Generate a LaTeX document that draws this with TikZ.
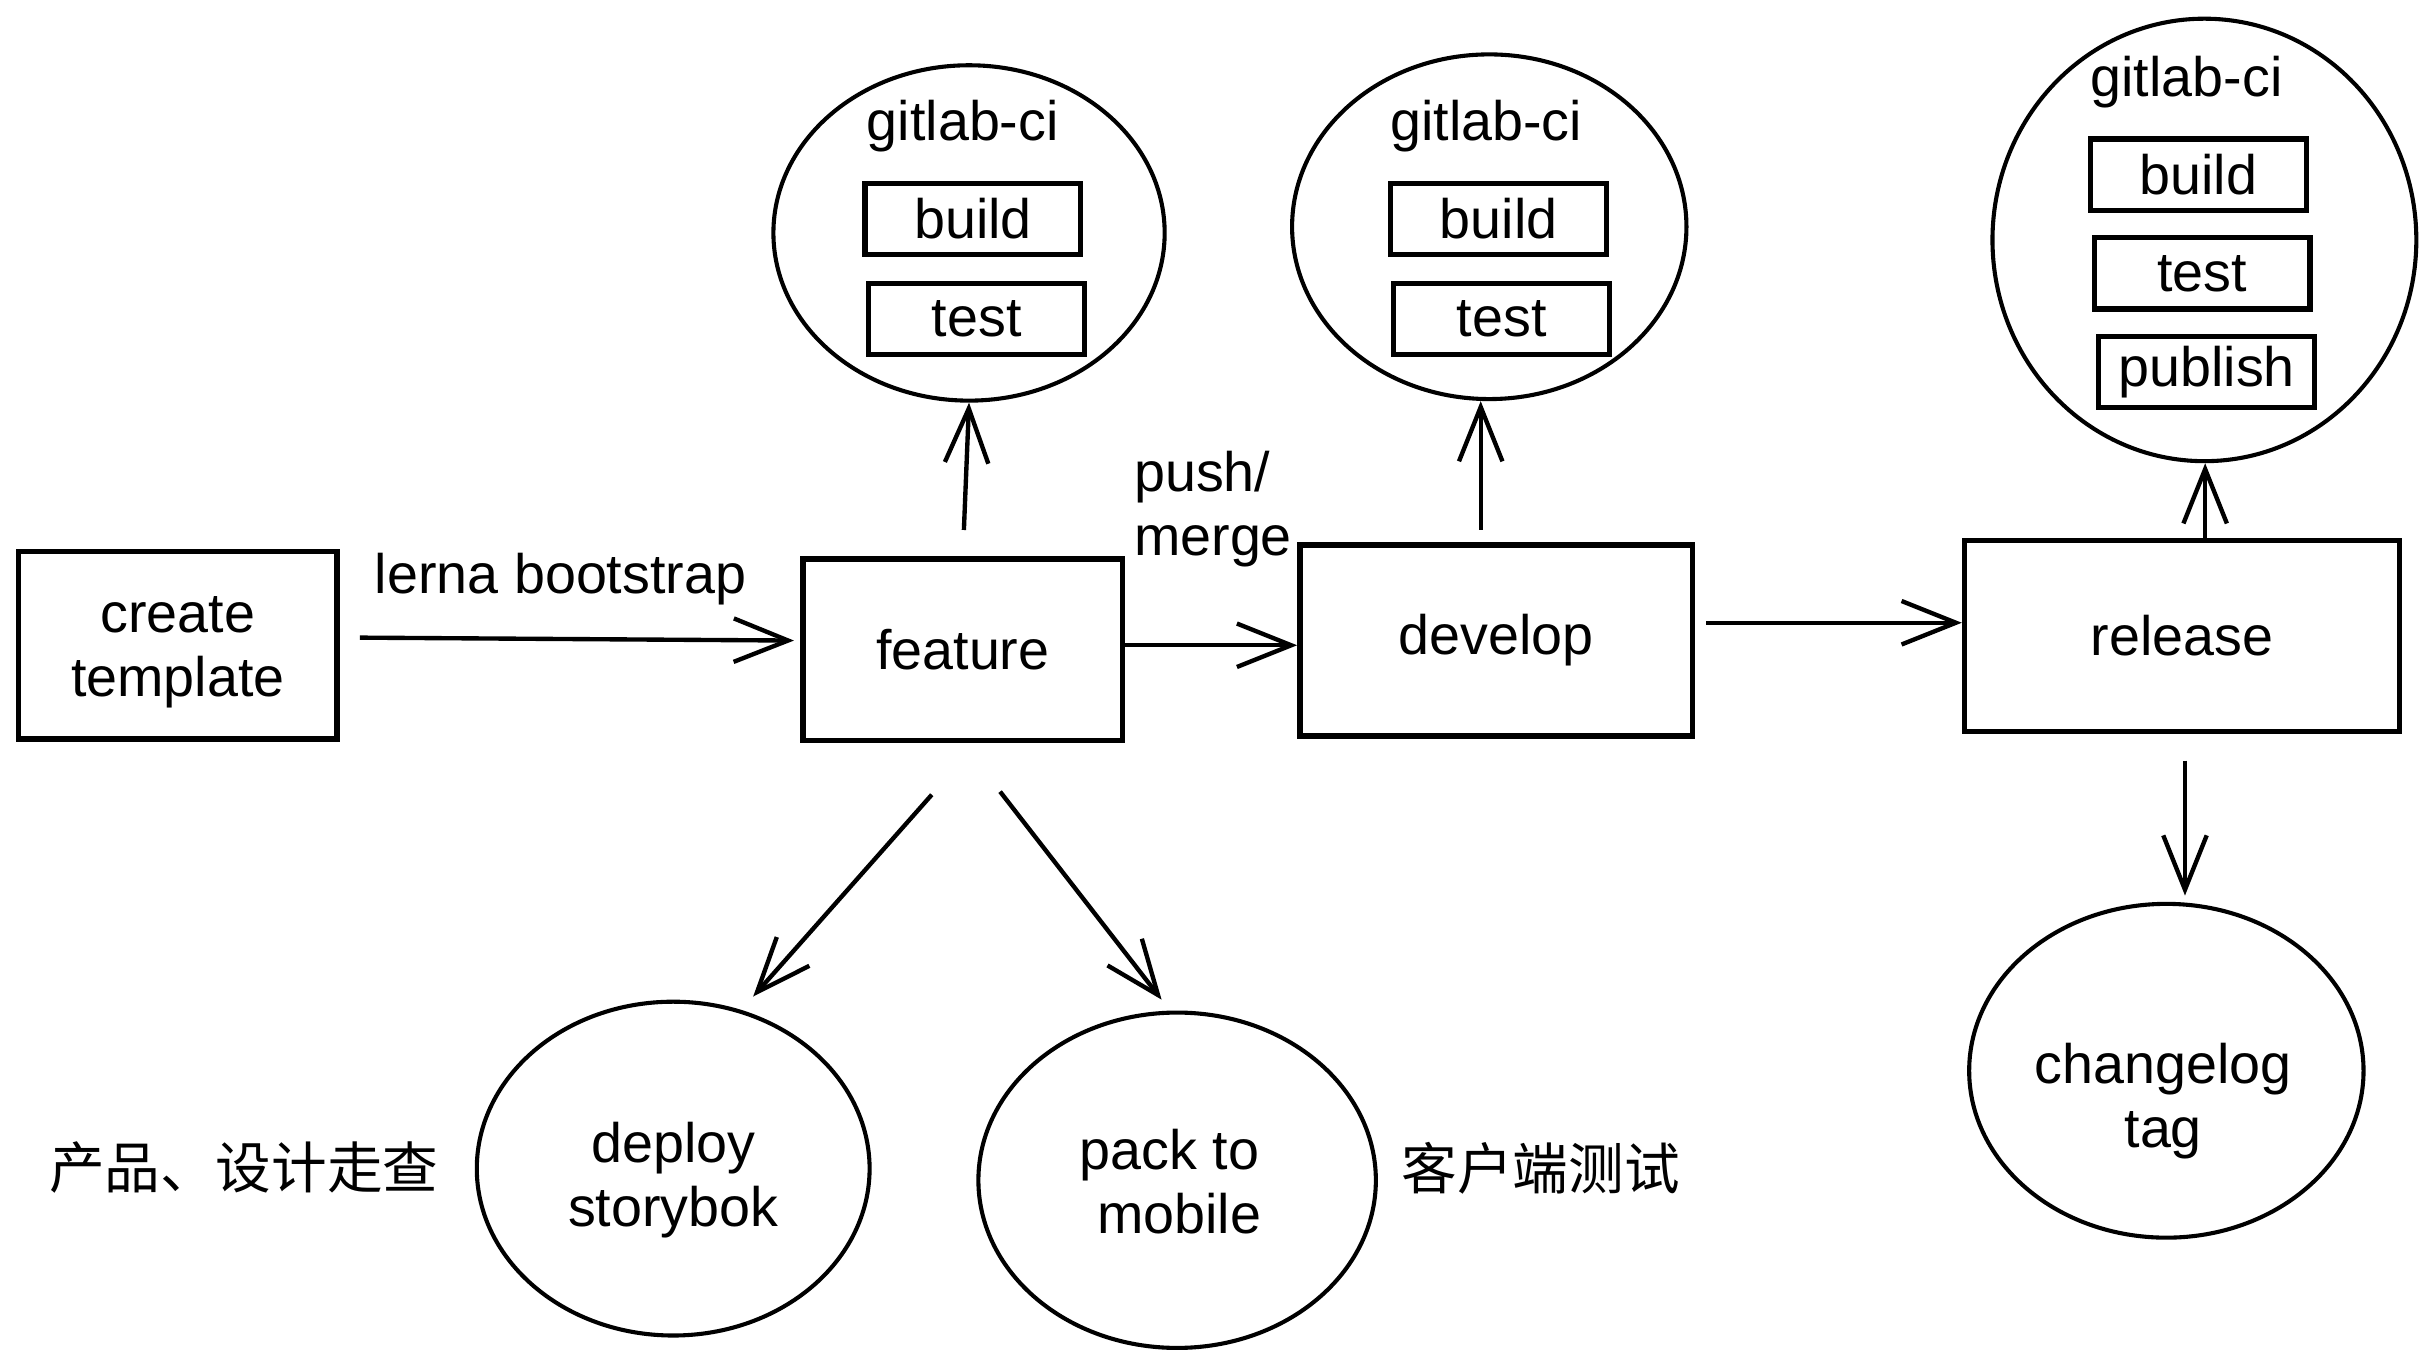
\documentclass[tikz,border=0pt]{standalone}
\usepackage{fontspec}
\setmainfont{Liberation Sans}
\newfontfamily\cjk{Noto Sans CJK SC}
\usetikzlibrary{shapes.geometric,arrows.meta}
\begin{document}
\begin{tikzpicture}[x=0.02cm,y=-0.02cm,
  every node/.style={font=\fontsize{20.4}{23.5}\selectfont, inner sep=0pt},
  boxnode/.style={draw, line width=2pt, rectangle, align=center},
  cinode/.style={draw, line width=1.9pt, rectangle, minimum width=2.78cm, minimum height=0.92cm},
  ellnode/.style={draw, line width=1.5pt, ellipse, align=center},
  lbl/.style={align=center},
  arr/.style={line width=1.6pt, -{Straight Barb[length=0.7cm,width=0.56cm,line width=1.6pt]}}]
\useasboundingbox (0,0) rectangle (1568,883);

% main boxes
\node[boxnode, minimum width=4.10cm, minimum height=2.42cm] (create) at (114.5,415.5) {};
\node[lbl] (createt) at (114.5,420) {create\\template};
\node[boxnode, minimum width=4.12cm, minimum height=2.34cm] (feature) at (620,418.5) {feature};
\node[boxnode, minimum width=5.06cm, minimum height=2.46cm] (develop) at (963.5,412.5) {develop};
\node[boxnode, minimum width=5.60cm, minimum height=2.46cm] (release) at (1405,409.5) {release};

% gitlab-ci ellipses
\node[ellnode, minimum width=5.04cm, minimum height=4.32cm] (ci1) at (624,150) {};
\node[lbl] (ci1t) at (620,81) {gitlab-ci};
\node[cinode] (ci1b) at (626.5,141) {build};
\node[cinode] (ci1s) at (629,205.5) {test};

\node[ellnode, minimum width=5.08cm, minimum height=4.44cm] (ci2) at (959,146) {};
\node[lbl] (ci2t) at (957,81) {gitlab-ci};
\node[cinode] (ci2b) at (965,141) {build};
\node[cinode] (ci2s) at (967,205.5) {test};

\node[ellnode, minimum width=5.46cm, minimum height=5.70cm] (ci3) at (1419.5,154.5) {};
\node[lbl] (ci3t) at (1408,53) {gitlab-ci};
\node[cinode] (ci3b) at (1415.5,112.5) {build};
\node[cinode] (ci3s) at (1418,176) {test};
\node[cinode] (ci3p) at (1421,239.5) {publish};

% bottom ellipses
\node[ellnode, minimum width=5.06cm, minimum height=4.30cm] (deploy) at (433.5,752.5) {};
\node[lbl] (deployt) at (433.5,760) {deploy\\storybok};
\node[ellnode, minimum width=5.12cm, minimum height=4.32cm] (pack) at (758,760) {};
\node[lbl] (packt) at (753,761) {pack to\\\hspace*{0.25cm}mobile};
\node[ellnode, minimum width=5.08cm, minimum height=4.30cm] (change) at (1395,689.5) {};
\node[lbl] (changet) at (1393,709) {changelog\\tag};

% labels
\node[lbl] (lerna) at (361,373) {lerna bootstrap};
\node[align=left, anchor=west] (push) at (730,328) {push/\\merge};
\node[lbl] (cn1) at (157,752) {\cjk 产品、设计走查};
\node[lbl] (cn2) at (992,752) {\cjk 客户端测试};

% connectors
\draw[arr, shorten <=0.26cm, shorten >=0.08cm] ([yshift=0.1cm]create.east) -- ([yshift=0.12cm]feature.west);
\draw[arr, shorten <=0.34cm] (feature.north) -- (ci1.south);
\draw[arr] ([yshift=0.06cm]feature.east) -- ([yshift=0.06cm]feature.east -| develop.west);
\draw[arr, shorten <=0.16cm] ([xshift=-0.2cm]develop.north) -- ([xshift=-0.2cm]develop.north |- ci2.south);
\draw[arr, shorten <=0.14cm] ([yshift=0.23cm]develop.east) -- ([yshift=0.23cm]develop.east -| release.west);
\draw[arr] ([xshift=0.3cm]release.north) -- ([xshift=0.3cm]release.north |- ci3.south);
\draw[arr, shorten <=0.34cm, shorten >=0.08cm] ([xshift=0.04cm]release.south) -- ([xshift=0.04cm]release.south |- change.north);
\draw[arr] ([xshift=-0.4cm,yshift=-0.66cm]feature.south) -- ([xshift=1.03cm,yshift=0.04cm]deploy.north);
\draw[arr] ([xshift=0.48cm,yshift=-0.62cm]feature.south) -- ([xshift=-0.2cm,yshift=0.14cm]pack.north);
\end{tikzpicture}
\end{document}
